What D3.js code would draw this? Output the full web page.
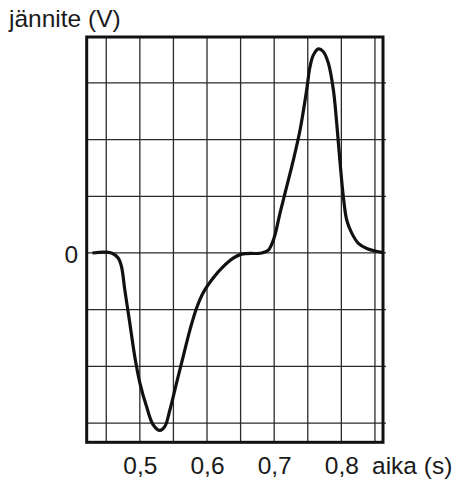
<!DOCTYPE html>
<html>
<head>
<meta charset="utf-8">
<script src="https://cdn.jsdelivr.net/npm/d3@7"></script>
<style>
  body { margin: 0; background: #fff; }
  svg { display: block; }
  text { font-family: "Liberation Sans", Arial, sans-serif; fill: #1a1a1a; }
</style>
</head>
<body>
<script>
// curve: time (s) and voltage in grid units
const times = [0.4295, 0.4578, 0.4677, 0.4727, 0.4776, 0.4851, 0.4925, 0.5, 0.51, 0.5198,
  0.5298, 0.5373, 0.5447, 0.5547, 0.5645, 0.5745, 0.5845, 0.5943, 0.6092, 0.6241,
  0.639, 0.6516, 0.6814, 0.6913, 0.6997, 0.7086, 0.7186, 0.7285, 0.7385, 0.7484,
  0.7534, 0.7583, 0.7657, 0.7732, 0.7806, 0.7881, 0.7931, 0.7981, 0.803, 0.808,
  0.8155, 0.8253, 0.8379, 0.8502, 0.8626];
const volts = [0, 0, -0.09, -0.24, -0.65, -1.24, -1.83, -2.29, -2.71, -3.03,
  -3.13, -3.06, -2.77, -2.29, -1.83, -1.36, -0.97, -0.7, -0.44, -0.24,
  -0.09, -0.02, 0, 0.05, 0.26, 0.7, 1.17, 1.64, 2.17, 2.88,
  3.29, 3.49, 3.6, 3.55, 3.35, 2.88, 2.29, 1.59, 0.99, 0.58,
  0.35, 0.17, 0.08, 0.035, 0.005];

const xTicks = [0.5, 0.6, 0.7, 0.8];
const yTicks = [0];
const xGrid = [0.45, 0.5, 0.55, 0.6, 0.65, 0.7, 0.75, 0.8, 0.85];
const yGrid = [-3, -2, -1, 0, 1, 2, 3];

const width = 452, height = 481;
const fontSize = "24.5px";
const x = d3.scaleLinear().domain([0.4209, 0.862]).range([86.7, 383]);
const y = d3.scaleLinear().domain([-3.34, 3.81]).range([442.3, 37]);

const fi = d3.formatLocale({decimal: ",", thousands: " ", grouping: [3], currency: ["", "€"]});

const svg = d3.select("body").append("svg")
  .attr("width", width)
  .attr("height", height);

// grid
svg.append("g").selectAll("line").data(xGrid).join("line")
  .attr("x1", d => x(d)).attr("x2", d => x(d))
  .attr("y1", y.range()[1]).attr("y2", y.range()[0])
  .attr("stroke", "#2a2a2a").attr("stroke-width", 1.3);

svg.append("g").selectAll("line").data(yGrid).join("line")
  .attr("x1", x.range()[0]).attr("x2", x.range()[1] + 3)
  .attr("y1", d => y(d)).attr("y2", d => y(d))
  .attr("stroke", "#2a2a2a").attr("stroke-width", 1.3);

// frame
svg.append("rect")
  .attr("x", x.range()[0]).attr("y", y.range()[1])
  .attr("width", x.range()[1] - x.range()[0])
  .attr("height", y.range()[0] - y.range()[1])
  .attr("fill", "none").attr("stroke", "#111").attr("stroke-width", 3);

// curve
const line = d3.line()
  .x(i => x(times[i]))
  .y(i => y(volts[i]))
  .curve(d3.curveCatmullRom.alpha(0.5));

svg.append("path")
  .datum(d3.range(times.length))
  .attr("d", line)
  .attr("fill", "none")
  .attr("stroke", "#111")
  .attr("stroke-width", 3.2)
  .attr("stroke-linejoin", "round");

// axes
const xAxis = svg.append("g")
  .attr("transform", `translate(0,${y.range()[0]})`)
  .call(d3.axisBottom(x).tickValues(xTicks).tickSize(0).tickFormat(fi.format(".1f")));
xAxis.select(".domain").remove();
xAxis.selectAll("text")
  .attr("y", 32).attr("dy", null)
  .style("font-size", fontSize)
  .style("font-family", "'Liberation Sans', Arial, sans-serif")
  .attr("fill", "#1a1a1a");

const yAxis = svg.append("g")
  .attr("transform", `translate(${x.range()[0]},0)`)
  .call(d3.axisLeft(y).tickValues(yTicks).tickSize(0).tickPadding(8.5).tickFormat(d3.format("d")));
yAxis.select(".domain").remove();
yAxis.selectAll("text")
  .attr("dy", "0.37em")
  .style("font-size", fontSize)
  .style("font-family", "'Liberation Sans', Arial, sans-serif")
  .attr("fill", "#1a1a1a");

// titles
svg.append("text")
  .attr("x", 9).attr("y", 27)
  .style("font-size", fontSize)
  .text("jännite (V)");

svg.append("text")
  .attr("x", 372).attr("y", 474.3)
  .style("font-size", fontSize)
  .text("aika (s)");
</script>
</body>
</html>
